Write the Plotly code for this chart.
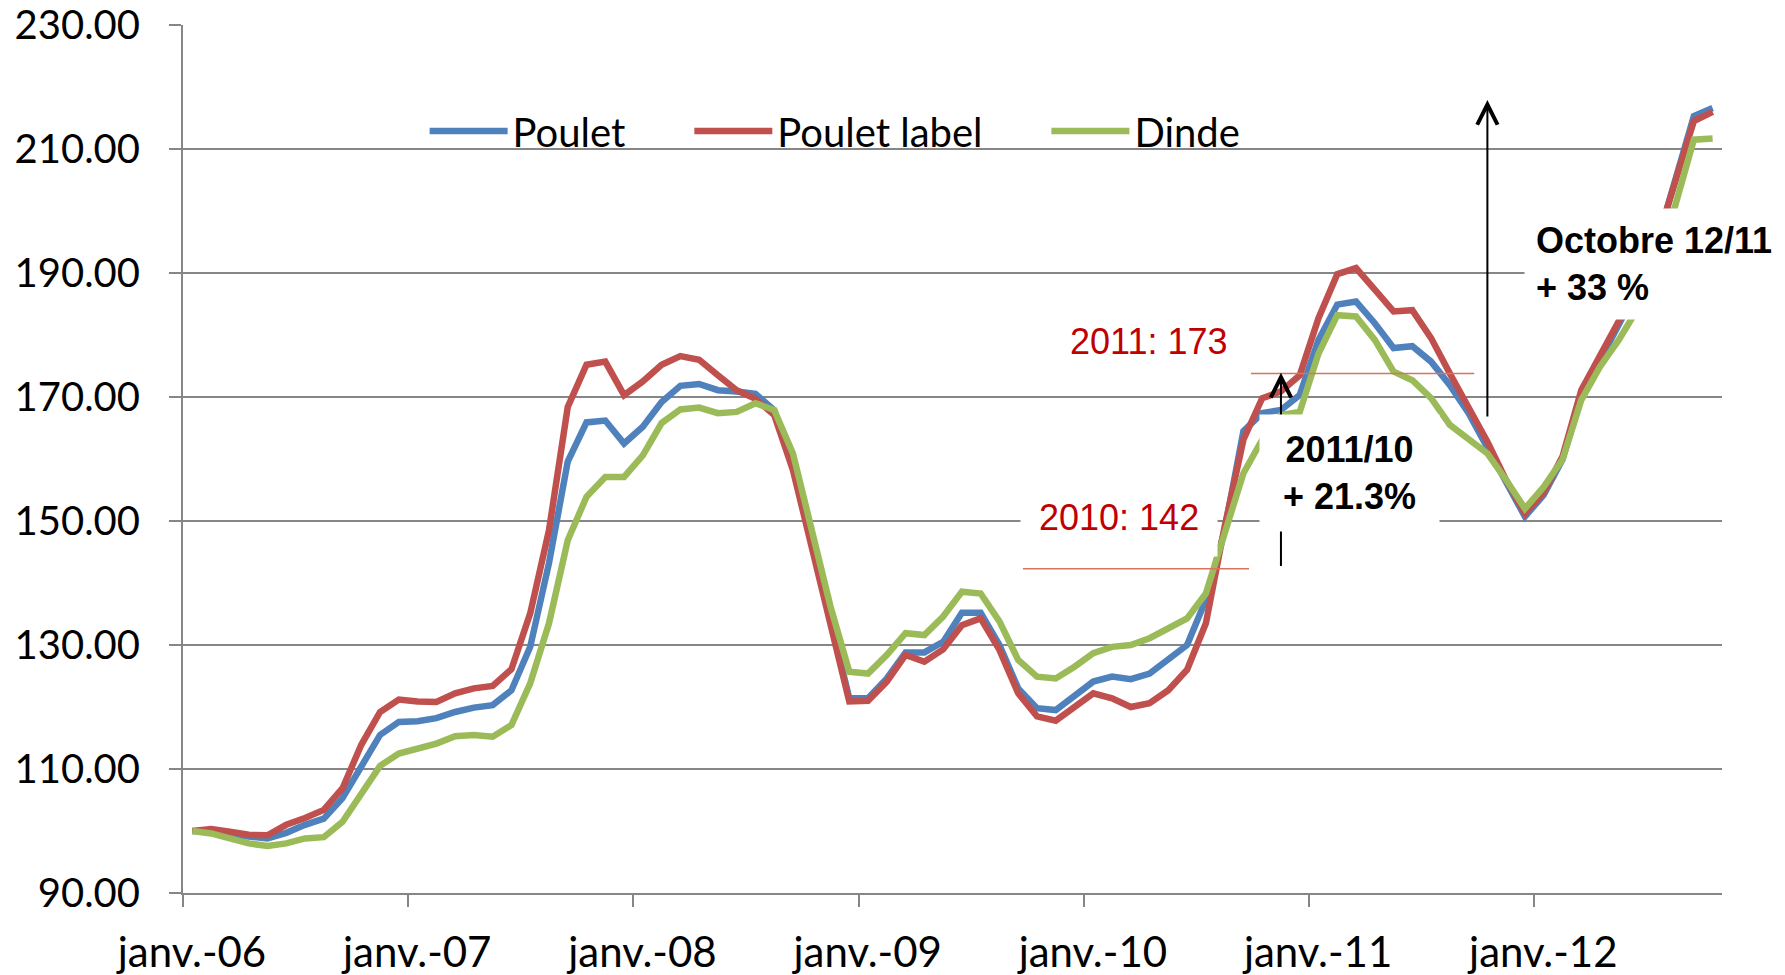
import plotly.graph_objects as go

# ---------------- data ----------------
month_index = list(range(82))  # janv. 2006 ... oct. 2012
tick_labels = ["janv.-06", "janv.-07", "janv.-08", "janv.-09", "janv.-10", "janv.-11", "janv.-12"]
tick_positions = [-0.5, 11.5, 23.5, 35.5, 47.5, 59.5, 71.5]
y_ticks = [90, 110, 130, 150, 170, 190, 210, 230]

poulet = [100.0, 99.9, 99.4, 99.0, 98.8, 99.7, 101.0, 102.0, 105.3, 110.4, 115.5, 117.6,
          117.7, 118.2, 119.2, 119.9, 120.3, 122.7, 129.7, 143.2, 159.6, 165.9, 166.2, 162.5,
          165.2, 169.2, 171.8, 172.1, 171.1, 170.9, 170.5, 167.9, 159.0, 146.5, 134.0, 121.4,
          121.4, 124.6, 128.8, 128.8, 130.5, 135.2, 135.2, 130.0, 123.0, 119.8, 119.5, 121.9,
          124.1, 124.9, 124.5, 125.4, 127.6, 130.0, 137.3, 148.5, 164.5, 167.4, 167.9, 170.3,
          179.2, 184.9, 185.4, 181.9, 177.9, 178.2, 175.7, 171.9, 167.4, 162.0, 156.3, 150.7,
          154.2, 159.9, 170.1, 176.0, 182.0, 187.5, 194.5, 205.0, 215.3, 216.6]

poulet_label = [100.0, 100.3, 99.9, 99.4, 99.3, 101.0, 102.1, 103.4, 106.9, 113.9, 119.2, 121.2,
                120.9, 120.8, 122.2, 123.0, 123.4, 126.1, 135.1, 148.5, 168.4, 175.2, 175.7, 170.3,
                172.5, 175.2, 176.6, 176.0, 173.5, 171.1, 169.7, 167.1, 158.2, 145.9, 133.5, 120.9,
                121.0, 124.1, 128.4, 127.3, 129.3, 133.2, 134.3, 129.2, 122.2, 118.5, 117.8, 120.0,
                122.2, 121.4, 120.0, 120.6, 122.7, 126.0, 133.5, 149.1, 163.1, 169.8, 170.9, 173.5,
                182.7, 189.8, 190.8, 187.3, 183.8, 184.0, 179.5, 173.8, 168.2, 162.8, 156.6, 151.2,
                154.6, 160.4, 171.1, 176.5, 182.4, 187.8, 194.8, 205.0, 214.5, 216.0]

dinde = [100.0, 99.6, 98.8, 98.0, 97.6, 98.0, 98.8, 99.0, 101.5, 106.0, 110.5, 112.5,
         113.2, 114.1, 115.3, 115.5, 115.2, 117.1, 123.8, 133.5, 146.9, 153.9, 157.1, 157.1,
         160.6, 165.8, 168.0, 168.3, 167.4, 167.6, 169.0, 167.9, 160.9, 148.0, 136.2, 125.7,
         125.4, 128.4, 131.9, 131.6, 134.6, 138.6, 138.3, 133.8, 127.6, 124.9, 124.6, 126.5,
         128.7, 129.7, 130.0, 131.1, 132.7, 134.3, 138.3, 148.0, 157.7, 163.1, 167.1, 167.6,
         177.0, 183.2, 183.0, 179.2, 174.1, 172.7, 169.8, 165.5, 163.1, 160.9, 156.6, 152.0,
         155.5, 159.9, 169.5, 174.9, 179.2, 184.2, 191.0, 200.8, 211.5, 211.7]

series_names = ["Poulet", "Poulet label", "Dinde"]
series_colors = ["#4F81BD", "#C0504D", "#9BBB59"]

# reference levels and annotations
level_2010 = 142.3
level_2011 = 173.8
arrow1_month, arrow1_from, arrow1_to = 58, 142.5, 173.9
arrow2_month, arrow2_from, arrow2_to = 69, 166.6, 217.9

GRID = "#868686"
FONT = "Lato"
ANN_FONT = "Liberation Sans"

fig = go.Figure()
legend_ids = ["legend", "legend2", "legend3"]
for name, vals, col, lg in zip(series_names, [poulet, poulet_label, dinde], series_colors, legend_ids):
    fig.add_trace(go.Scatter(x=month_index, y=vals, mode="lines", name=name, showlegend=True,
                             line=dict(color=col, width=6.5), legend=lg))

# red reference lines
fig.add_shape(type="line", xref="x", yref="y", x0=44.25, x1=56.3, y0=level_2010, y1=level_2010,
              line=dict(color="#D8735E", width=1.5), layer="above")
fig.add_shape(type="line", xref="x", yref="y", x0=56.4, x1=68.3, y0=level_2011, y1=level_2011,
              line=dict(color="#D8735E", width=1.5), layer="above")

annotations = []
# arrows
for xm, y0, y1 in [(arrow1_month, arrow1_from, arrow1_to), (arrow2_month, arrow2_from, arrow2_to)]:
    annotations.append(dict(x=xm, y=y1, ax=xm, ay=y0, xref="x", yref="y", axref="x", ayref="y",
                            text="", showarrow=True, arrowhead=5, arrowsize=2, arrowwidth=2,
                            arrowcolor="black", standoff=0, startstandoff=0))
# red labels
annotations.append(dict(x=50.93, y=179.0, xref="x", yref="y", text="2011: 173", showarrow=False,
                        font=dict(family=ANN_FONT, size=36, color="#C00000"),
                        bgcolor="white", borderpad=6))
annotations.append(dict(x=49.39, y=150.6, xref="x", yref="y", text="2010: 142", showarrow=False,
                        font=dict(family=ANN_FONT, size=36, color="#C00000"),
                        bgcolor="white", borderpad=18))
# bold labels
annotations.append(dict(x=56.84, y=157.8, xref="x", yref="y", xanchor="left", yanchor="middle",
                        text="<b>2011/10</b><br><b>+ 21.3%</b>", showarrow=False, align="center",
                        width=151,
                        font=dict(family=ANN_FONT, size=36, color="black"),
                        bgcolor="white", borderpad=14))
annotations.append(dict(x=70.95, y=191.45, xref="x", yref="y", xanchor="left", yanchor="middle",
                        text="<b>Octobre 12/11</b><br><b>+ 33 %</b>", showarrow=False, align="left",
                        font=dict(family=ANN_FONT, size=36, color="black"),
                        bgcolor="white", borderpad=11))

legend_common = dict(orientation="h", bgcolor="rgba(0,0,0,0)", font=dict(family=FONT, size=40, color="black"),
                     itemwidth=78, xanchor="left", yanchor="middle", y=0.878, borderwidth=0)

fig.update_layout(
    width=1785, height=975,
    margin=dict(l=183, r=63, t=25, b=82, autoexpand=False),
    paper_bgcolor="white", plot_bgcolor="white",
    showlegend=True,
    font=dict(family=FONT, size=40, color="black"),
    annotations=annotations,
    legend=dict(x=0.157, **legend_common),
    legend2=dict(x=0.329, **legend_common),
    legend3=dict(x=0.561, **legend_common),
    xaxis=dict(range=[-0.5, 81.5], tickmode="array", tickvals=tick_positions, ticktext=tick_labels,
               ticks="outside", ticklen=12, tickwidth=2, tickcolor=GRID, ticklabelshift=9,
               showgrid=False, zeroline=False, showline=True, linecolor=GRID, linewidth=2,
               automargin=False,
               tickfont=dict(family=FONT, size=42, color="black"), ticklabelstandoff=10),
    yaxis=dict(range=[90, 230], tickmode="array", tickvals=y_ticks, tickformat=".2f",
               ticks="outside", ticklen=12, tickwidth=2, tickcolor=GRID,
               showgrid=True, gridcolor=GRID, gridwidth=2, zeroline=False,
               showline=True, linecolor=GRID, linewidth=2, automargin=False,
               tickfont=dict(family=FONT, size=40, color="black"), ticklabelstandoff=21),
)

fig.write_html("out.html", config={"displayModeBar": False},
               post_script="document.body.style.margin='0';document.body.style.overflow='hidden';")
